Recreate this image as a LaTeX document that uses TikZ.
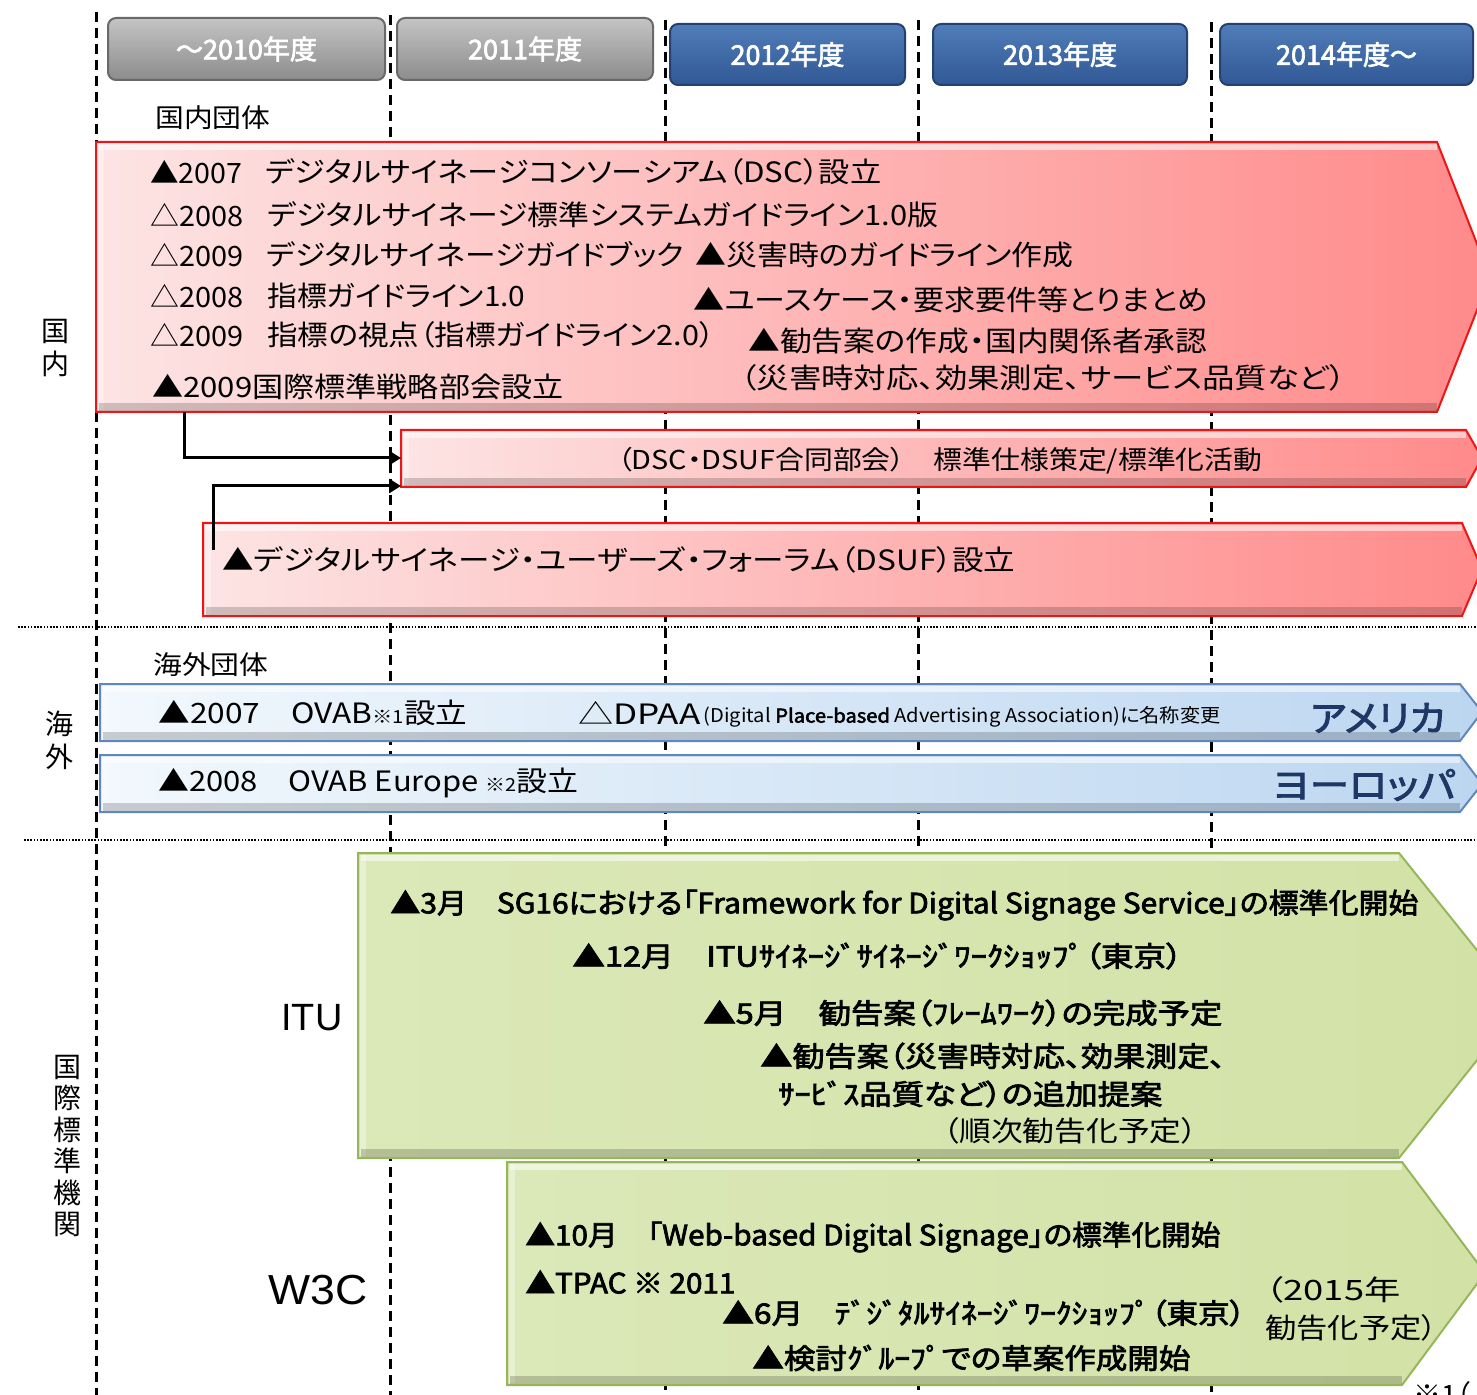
\documentclass[tikz,border=0pt]{standalone}
\usepackage{fontspec}
\setmainfont{Noto Sans CJK JP}[AutoFakeBold=2.5,RawFeature={+palt}]
\newfontfamily\arialf{Liberation Sans}
\usepackage{graphicx}
\usetikzlibrary{arrows.meta}
\definecolor{redL}{RGB}{253,228,228}
\definecolor{redR}{RGB}{255,138,138}
\definecolor{redB}{RGB}{240,20,20}
\definecolor{blueL}{RGB}{242,248,253}
\definecolor{blueR}{RGB}{188,214,240}
\definecolor{blueB}{RGB}{95,135,190}
\definecolor{grnF}{RGB}{210,226,166}
\definecolor{grnB}{RGB}{150,182,90}
\definecolor{navyT}{RGB}{30,55,100}
\definecolor{hgT}{RGB}{196,196,196}
\definecolor{hgB}{RGB}{140,140,140}
\definecolor{hgD}{RGB}{105,105,105}
\definecolor{hbT}{RGB}{80,125,185}
\definecolor{hbB}{RGB}{48,88,148}
\definecolor{hbD}{RGB}{35,65,115}
\newsavebox\fitbox
\newcommand\fitw[2]{\sbox\fitbox{#2}\pgfmathsetmacro\fitfac{#1*0.5pt/\the\wd\fitbox}\scalebox{\fitfac}[1]{\usebox\fitbox}}
\newcommand\bev[4]{%
  \fill[white,opacity=0.55] (#1+3,#2+2) rectangle (#3,#2+8);
  \fill[white,opacity=0.35] (#1+2,#2+2) rectangle (#1+8,#4-2);
  \fill[black,opacity=0.18] (#1+3,#4-9) rectangle (#3,#4-1);}
\begin{document}
\begin{tikzpicture}[x=0.5pt,y=-0.5pt,
  txt/.style={anchor=west,inner sep=0pt,font=\fontsize{14}{17}\selectfont},
  btxt/.style={anchor=west,inner sep=0pt,font=\fontsize{14}{17}\selectfont\bfseries},
  side/.style={align=center,inner sep=0pt,font=\fontsize{14}{16.5}\selectfont},
  vdash/.style={line width=1.5pt,dash pattern=on 5pt off 3pt},
  hdot/.style={line width=0.8pt,dash pattern=on 0.8pt off 0.8pt},
  conn/.style={line width=1.5pt,-{Triangle[length=6pt,width=7pt]}},
  hgray/.style={rounded corners=4pt,top color=hgT,bottom color=hgB,draw=hgD,line width=1pt,text=white,font=\fontsize{13.5}{16}\selectfont\bfseries,minimum height=31pt,inner sep=0pt},
  hblue/.style={rounded corners=4pt,top color=hbT,bottom color=hbB,draw=hbD,line width=1pt,text=white,font=\fontsize{13.5}{16}\selectfont\bfseries,minimum height=30.5pt,inner sep=0pt},
  redblk/.style={left color=redL,right color=redR,draw=redB,line width=1pt},
  blueblk/.style={left color=blueL,right color=blueR,draw=blueB,line width=1pt},
  grnblk/.style={left color=grnF!80!white,right color=grnF,draw=grnB,line width=1pt},
]
\useasboundingbox (0,0) rectangle (1477,1395);
\begin{scope}
\clip (0,0) rectangle (1477,1395);
% grid lines
\foreach \xx/\ys in {96/12,390/15,665/20,918/20,1211/22}
  \draw[vdash] (\xx,\ys) -- (\xx,1395);
\draw[hdot] (18,627) -- (1477,627);
\draw[hdot] (24,840) -- (1477,840);
% headers
\node[hgray,minimum width=138.5pt] (h1) at (246.5,49) {～2010年度};
\node[hgray,minimum width=128pt] (h2) at (525,49) {2011年度};
\node[hblue,minimum width=117.5pt] (h3) at (787.5,54.5) {2012年度};
\node[hblue,minimum width=127pt] (h4) at (1060,54.5) {2013年度};
\node[hblue,minimum width=126.5pt] (h5) at (1346.5,54.5) {2014年度～};
% side labels
\node[side] (sk) at (55,348) {国\\内};
\node[side] (sg) at (60,740) {海\\外};
\node[side,font=\fontsize{14}{15.7}\selectfont] (si) at (67,1146) {国\\際\\標\\準\\機\\関};
\node[txt,font=\fontsize{13}{15}\selectfont] (kd) at (155,118) {\fitw{115}{国内団体}};
\node[txt,font=\fontsize{13}{15}\selectfont] (kg) at (153,665) {\fitw{115}{海外団体}};
% red block 1
\path[redblk] (96,142) -- (1437,142) -- (1490,277) -- (1437,412) -- (96,412) -- cycle;
\bev{96}{142}{1437}{412}
\node[txt] (r1a) at (150,172) {\fitw{92}{▲2007}};
\node[txt] (r1b) at (265,172) {\fitw{616}{デジタルサイネージコンソーシアム（DSC）設立}};
\node[txt] (r2a) at (150,215) {\fitw{93}{△2008}};
\node[txt] (r2b) at (267,215) {\fitw{671}{デジタルサイネージ標準システムガイドライン1.0版}};
\node[txt] (r3a) at (150,255) {\fitw{93}{△2009}};
\node[txt] (r3b) at (266,255) {\fitw{418}{デジタルサイネージガイドブック}};
\node[txt] (r3c) at (695,255) {\fitw{378}{▲災害時のガイドライン作成}};
\node[txt] (r4a) at (150,296) {\fitw{93}{△2008}};
\node[txt] (r4b) at (267,296) {\fitw{258}{指標ガイドライン1.0}};
\node[txt] (r4c) at (693,300) {\fitw{515}{▲ユースケース・要求要件等とりまとめ}};
\node[txt] (r5a) at (150,335) {\fitw{93}{△2009}};
\node[txt] (r5b) at (267,335) {\fitw{447}{指標の視点（指標ガイドライン2.0）}};
\node[txt] (r5c) at (748,341) {\fitw{459}{▲勧告案の作成・国内関係者承認}};
\node[txt] (r6c) at (740,378) {\fitw{605}{（災害時対応、効果測定、サービス品質など）}};
\node[txt] (r7a) at (152,387) {\fitw{411}{▲2009国際標準戦略部会設立}};
% red block 2
\path[redblk] (401,430) -- (1466,430) -- (1482,458) -- (1466,487) -- (401,487) -- cycle;
\bev{401}{430}{1466}{487}
\node[txt,font=\fontsize{13}{15}\selectfont] (b2) at (617,461) {\fitw{645}{（DSC・DSUF合同部会）　標準仕様策定/標準化活動}};
% red block 3
\path[redblk] (203,523) -- (1462,523) -- (1482,569) -- (1462,616) -- (203,616) -- cycle;
\bev{203}{523}{1462}{616}
\node[txt] (b3) at (222,560) {\fitw{793}{▲デジタルサイネージ・ユーザーズ・フォーラム（DSUF）設立}};
% connectors
\coordinate (a1s) at (184,412);
\coordinate (a1e) at (401,458);
\coordinate (a2s) at (213,550);
\coordinate (a2e) at (401,486);
\draw[conn] (a1s) |- (a1e);
\draw[conn] (a2s) |- (a2e);
% blue bars
\path[blueblk] (100,684) -- (1460,684) -- (1482,712) -- (1460,741) -- (100,741) -- cycle;
\bev{100}{684}{1460}{741}
\path[blueblk] (100,755) -- (1460,755) -- (1482,784) -- (1460,812) -- (100,812) -- cycle;
\bev{100}{755}{1460}{812}
\node[txt] (o1) at (158,713) {\fitw{309}{▲2007　OVAB{\fontsize{9}{10}\selectfont ※1}設立}};
\node[txt] (o2) at (578,713) {\fitw{122}{△DPAA}};
\node[txt,font=\fontsize{9.5}{11}\selectfont] (o3) at (703,717) {\fitw{517}{(Digital \textbf{Place-based} Advertising Association)に名称変更}};
\node[txt,font=\fontsize{18}{20}\selectfont\bfseries,text=navyT] (us) at (1310,718) {\fitw{135}{アメリカ}};
\node[txt] (o4) at (158,783) {\fitw{420}{▲2008　OVAB Europe {\fontsize{9}{10}\selectfont ※2}設立}};
\node[txt,font=\fontsize{18}{20}\selectfont\bfseries,text=navyT] (eu) at (1272,785) {\fitw{183}{ヨーロッパ}};
% ITU block
\path[grnblk] (358,853) -- (1399,853) -- (1521,1005) -- (1399,1158) -- (358,1158) -- cycle;
\bev{358}{853}{1399}{1158}
\node[txt,font=\fontsize{19}{21}\selectfont\arialf] (itu) at (281,1018) {\fitw{61}{ITU}};
\node[btxt] (i1) at (390,905) {\fitw{1028}{▲3月　SG16における「Framework for Digital Signage Service」の標準化開始}};
\node[btxt] (i2) at (572,956) {\fitw{610}{▲12月　ITUｻｲﾈｰｼﾞｻｲﾈｰｼﾞﾜｰｸｼｮｯﾌﾟ（東京）}};
\node[btxt] (i3) at (703,1013) {\fitw{519}{▲5月　勧告案（ﾌﾚｰﾑﾜｰｸ）の完成予定}};
\node[btxt] (i4) at (760,1056) {\fitw{465}{▲勧告案（災害時対応、効果測定、}};
\node[btxt] (i5) at (778,1094) {\fitw{384}{ｻｰﾋﾞｽ品質など）の追加提案}};
\node[txt] (i6) at (943,1131) {\fitw{254}{（順次勧告化予定）}};
% W3C block
\path[grnblk] (507,1162) -- (1402,1162) -- (1485,1273) -- (1402,1385) -- (507,1385) -- cycle;
\bev{507}{1162}{1402}{1385}
\node[txt,font=\fontsize{21}{23}\selectfont\arialf] (w3c) at (268,1290) {\fitw{99}{W3C}};
\node[btxt] (w1) at (525,1237) {\fitw{695}{▲10月　「Web-based Digital Signage」の標準化開始}};
\node[btxt] (w2) at (525,1282) {\fitw{210}{▲TPAC ※ 2011}};
\node[btxt] (w3) at (722,1313) {\fitw{523}{▲6月　ﾃﾞｼﾞﾀﾙｻｲﾈｰｼﾞﾜｰｸｼｮｯﾌﾟ（東京）}};
\node[btxt] (w4) at (752,1358) {\fitw{438}{▲検討ｸﾞﾙｰﾌﾟでの草案作成開始}};
\node[txt] (w5) at (1265,1290) {\fitw{135}{（2015年}};
\node[txt] (w6) at (1265,1328) {\fitw{172}{勧告化予定）}};
\node[txt,anchor=north west] (fn) at (1413,1381) {※1（};
\end{scope}
\end{tikzpicture}
\end{document}
